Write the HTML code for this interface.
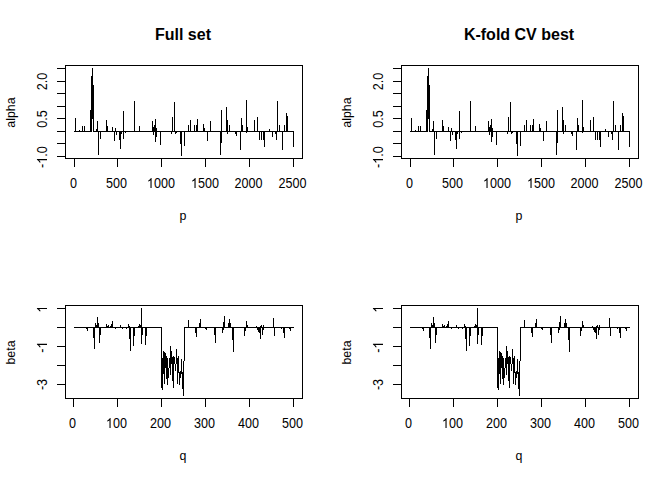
<!DOCTYPE html>
<html><head><meta charset="utf-8"><title>plot</title>
<style>
html,body{margin:0;padding:0;background:#fff;}
body{width:672px;height:480px;overflow:hidden;}
svg{display:block;}
text{font-family:"Liberation Sans",sans-serif;font-size:14px;fill:#000;}
text.t{font-weight:bold;font-size:16px;}
text.l{font-size:13.33px;}
</style></head><body>
<svg width="672" height="480" viewBox="0 0 672 480">
<rect x="0" y="0" width="672" height="480" fill="#fff"/>
<g shape-rendering="crispEdges" fill="#000"><rect x="65" y="65" width="238" height="1"/><rect x="65" y="158" width="238" height="1"/><rect x="65" y="65" width="1" height="94"/><rect x="302" y="65" width="1" height="94"/><rect x="57" y="68" width="9" height="1"/><rect x="57" y="81" width="9" height="1"/><rect x="57" y="93" width="9" height="1"/><rect x="57" y="106" width="9" height="1"/><rect x="57" y="118" width="9" height="1"/><rect x="57" y="131" width="9" height="1"/><rect x="57" y="143" width="9" height="1"/><rect x="57" y="156" width="9" height="1"/><rect x="74" y="158" width="1" height="9"/><rect x="117" y="158" width="1" height="9"/><rect x="161" y="158" width="1" height="9"/><rect x="205" y="158" width="1" height="9"/><rect x="249" y="158" width="1" height="9"/><rect x="293" y="158" width="1" height="9"/><rect x="74" y="131" width="18" height="1"/><rect x="93" y="131" width="201" height="1"/><rect x="75" y="118" width="1" height="14"/><rect x="79" y="130" width="1" height="2"/><rect x="82" y="126" width="1" height="6"/><rect x="84" y="126" width="1" height="6"/><rect x="90" y="110" width="1" height="22"/><rect x="91" y="76" width="1" height="56"/><rect x="93" y="85" width="1" height="47"/><rect x="96" y="129" width="1" height="3"/><rect x="97" y="121" width="1" height="11"/><rect x="98" y="131" width="1" height="24"/><rect x="100" y="131" width="1" height="8"/><rect x="106" y="120" width="1" height="12"/><rect x="107" y="126" width="1" height="6"/><rect x="112" y="127" width="1" height="5"/><rect x="114" y="131" width="1" height="10"/><rect x="115" y="128" width="1" height="4"/><rect x="116" y="131" width="1" height="4"/><rect x="119" y="131" width="1" height="9"/><rect x="120" y="131" width="1" height="18"/><rect x="121" y="131" width="1" height="3"/><rect x="123" y="111" width="1" height="28"/><rect x="125" y="131" width="1" height="2"/><rect x="134" y="101" width="1" height="31"/><rect x="139" y="126" width="1" height="6"/><rect x="152" y="121" width="1" height="11"/><rect x="153" y="127" width="1" height="8"/><rect x="154" y="125" width="1" height="7"/><rect x="155" y="119" width="1" height="23"/><rect x="156" y="128" width="1" height="9"/><rect x="160" y="131" width="1" height="14"/><rect x="171" y="131" width="1" height="3"/><rect x="172" y="117" width="1" height="15"/><rect x="174" y="102" width="1" height="30"/><rect x="175" y="131" width="1" height="3"/><rect x="176" y="131" width="1" height="2"/><rect x="180" y="131" width="1" height="13"/><rect x="181" y="131" width="1" height="25"/><rect x="184" y="131" width="1" height="15"/><rect x="188" y="125" width="1" height="7"/><rect x="190" y="120" width="1" height="12"/><rect x="194" y="125" width="1" height="7"/><rect x="196" y="125" width="1" height="7"/><rect x="197" y="119" width="1" height="13"/><rect x="203" y="124" width="1" height="8"/><rect x="204" y="128" width="1" height="4"/><rect x="207" y="131" width="1" height="10"/><rect x="210" y="121" width="1" height="11"/><rect x="220" y="131" width="1" height="24"/><rect x="221" y="110" width="1" height="33"/><rect x="226" y="107" width="1" height="25"/><rect x="227" y="120" width="1" height="14"/><rect x="229" y="125" width="1" height="7"/><rect x="235" y="131" width="1" height="3"/><rect x="236" y="131" width="1" height="5"/><rect x="240" y="131" width="1" height="19"/><rect x="241" y="118" width="1" height="14"/><rect x="242" y="125" width="1" height="7"/><rect x="246" y="100" width="1" height="33"/><rect x="247" y="127" width="1" height="5"/><rect x="254" y="120" width="1" height="12"/><rect x="257" y="117" width="1" height="15"/><rect x="259" y="131" width="1" height="9"/><rect x="261" y="131" width="1" height="9"/><rect x="263" y="131" width="1" height="9"/><rect x="264" y="131" width="1" height="16"/><rect x="269" y="129" width="1" height="3"/><rect x="272" y="131" width="1" height="6"/><rect x="275" y="131" width="1" height="3"/><rect x="276" y="131" width="1" height="9"/><rect x="277" y="101" width="1" height="31"/><rect x="279" y="125" width="1" height="7"/><rect x="282" y="131" width="1" height="19"/><rect x="284" y="125" width="1" height="7"/><rect x="286" y="113" width="1" height="19"/><rect x="287" y="116" width="1" height="16"/><rect x="293" y="131" width="1" height="16"/><rect x="92" y="68" width="1" height="51"/><rect x="65" y="305" width="238" height="1"/><rect x="65" y="398" width="238" height="1"/><rect x="65" y="305" width="1" height="94"/><rect x="302" y="305" width="1" height="94"/><rect x="57" y="308" width="9" height="1"/><rect x="57" y="327" width="9" height="1"/><rect x="57" y="346" width="9" height="1"/><rect x="57" y="365" width="9" height="1"/><rect x="57" y="384" width="9" height="1"/><rect x="73" y="398" width="1" height="9"/><rect x="117" y="398" width="1" height="9"/><rect x="161" y="398" width="1" height="9"/><rect x="205" y="398" width="1" height="9"/><rect x="249" y="398" width="1" height="9"/><rect x="293" y="398" width="1" height="9"/><rect x="74" y="327" width="88" height="1"/><rect x="184" y="327" width="110" height="1"/><rect x="86" y="327" width="1" height="2"/><rect x="87" y="327" width="1" height="4"/><rect x="93" y="327" width="1" height="11"/><rect x="94" y="327" width="1" height="22"/><rect x="95" y="323" width="1" height="5"/><rect x="96" y="325" width="1" height="3"/><rect x="97" y="317" width="1" height="11"/><rect x="98" y="323" width="1" height="5"/><rect x="99" y="327" width="1" height="16"/><rect x="100" y="327" width="1" height="8"/><rect x="106" y="324" width="1" height="4"/><rect x="107" y="326" width="1" height="2"/><rect x="108" y="325" width="1" height="3"/><rect x="110" y="326" width="1" height="2"/><rect x="111" y="324" width="1" height="4"/><rect x="112" y="321" width="1" height="7"/><rect x="115" y="327" width="1" height="2"/><rect x="120" y="325" width="1" height="3"/><rect x="122" y="327" width="1" height="2"/><rect x="126" y="327" width="1" height="2"/><rect x="128" y="324" width="1" height="4"/><rect x="129" y="326" width="1" height="13"/><rect x="130" y="327" width="1" height="24"/><rect x="133" y="327" width="1" height="19"/><rect x="134" y="327" width="1" height="9"/><rect x="138" y="326" width="1" height="2"/><rect x="139" y="324" width="1" height="4"/><rect x="140" y="325" width="1" height="3"/><rect x="141" y="308" width="1" height="36"/><rect x="142" y="327" width="1" height="8"/><rect x="145" y="327" width="1" height="18"/><rect x="146" y="327" width="1" height="9"/><rect x="188" y="320" width="1" height="8"/><rect x="195" y="327" width="1" height="6"/><rect x="196" y="327" width="1" height="10"/><rect x="199" y="323" width="1" height="5"/><rect x="200" y="319" width="1" height="9"/><rect x="205" y="327" width="1" height="2"/><rect x="206" y="327" width="1" height="3"/><rect x="214" y="327" width="1" height="8"/><rect x="215" y="327" width="1" height="16"/><rect x="222" y="327" width="1" height="6"/><rect x="223" y="322" width="1" height="8"/><rect x="224" y="316" width="1" height="12"/><rect x="228" y="323" width="1" height="5"/><rect x="229" y="319" width="1" height="9"/><rect x="230" y="323" width="1" height="5"/><rect x="232" y="327" width="1" height="13"/><rect x="233" y="327" width="1" height="25"/><rect x="244" y="327" width="1" height="9"/><rect x="245" y="327" width="1" height="4"/><rect x="246" y="321" width="1" height="7"/><rect x="247" y="325" width="1" height="3"/><rect x="256" y="326" width="1" height="2"/><rect x="257" y="327" width="1" height="3"/><rect x="258" y="327" width="1" height="5"/><rect x="259" y="327" width="1" height="6"/><rect x="260" y="326" width="1" height="13"/><rect x="261" y="325" width="1" height="3"/><rect x="262" y="327" width="1" height="8"/><rect x="263" y="325" width="1" height="5"/><rect x="273" y="318" width="1" height="10"/><rect x="274" y="327" width="1" height="9"/><rect x="281" y="327" width="1" height="2"/><rect x="283" y="327" width="1" height="6"/><rect x="284" y="327" width="1" height="11"/><rect x="289" y="327" width="1" height="2"/><rect x="290" y="327" width="1" height="4"/><rect x="161" y="327" width="1" height="61"/><rect x="162" y="358" width="1" height="32"/><rect x="163" y="351" width="1" height="23"/><rect x="164" y="352" width="1" height="32"/><rect x="165" y="353" width="1" height="15"/><rect x="166" y="356" width="1" height="23"/><rect x="167" y="358" width="1" height="27"/><rect x="168" y="368" width="1" height="10"/><rect x="169" y="358" width="1" height="10"/><rect x="170" y="346" width="1" height="29"/><rect x="171" y="351" width="1" height="13"/><rect x="172" y="357" width="1" height="24"/><rect x="173" y="356" width="1" height="32"/><rect x="174" y="357" width="1" height="7"/><rect x="175" y="364" width="1" height="7"/><rect x="176" y="349" width="1" height="15"/><rect x="177" y="358" width="1" height="26"/><rect x="178" y="356" width="1" height="17"/><rect x="179" y="372" width="1" height="13"/><rect x="180" y="371" width="1" height="7"/><rect x="181" y="359" width="1" height="15"/><rect x="182" y="372" width="1" height="17"/><rect x="183" y="361" width="1" height="35"/><rect x="184" y="327" width="1" height="34"/><rect x="401" y="65" width="238" height="1"/><rect x="401" y="158" width="238" height="1"/><rect x="401" y="65" width="1" height="94"/><rect x="638" y="65" width="1" height="94"/><rect x="393" y="68" width="9" height="1"/><rect x="393" y="81" width="9" height="1"/><rect x="393" y="93" width="9" height="1"/><rect x="393" y="106" width="9" height="1"/><rect x="393" y="118" width="9" height="1"/><rect x="393" y="131" width="9" height="1"/><rect x="393" y="143" width="9" height="1"/><rect x="393" y="156" width="9" height="1"/><rect x="410" y="158" width="1" height="9"/><rect x="453" y="158" width="1" height="9"/><rect x="497" y="158" width="1" height="9"/><rect x="541" y="158" width="1" height="9"/><rect x="585" y="158" width="1" height="9"/><rect x="629" y="158" width="1" height="9"/><rect x="410" y="131" width="18" height="1"/><rect x="429" y="131" width="201" height="1"/><rect x="411" y="118" width="1" height="14"/><rect x="415" y="130" width="1" height="2"/><rect x="418" y="126" width="1" height="6"/><rect x="420" y="126" width="1" height="6"/><rect x="426" y="110" width="1" height="22"/><rect x="427" y="76" width="1" height="56"/><rect x="429" y="85" width="1" height="47"/><rect x="432" y="129" width="1" height="3"/><rect x="433" y="121" width="1" height="11"/><rect x="434" y="131" width="1" height="24"/><rect x="436" y="131" width="1" height="8"/><rect x="442" y="120" width="1" height="12"/><rect x="443" y="126" width="1" height="6"/><rect x="448" y="127" width="1" height="5"/><rect x="450" y="131" width="1" height="10"/><rect x="451" y="128" width="1" height="4"/><rect x="452" y="131" width="1" height="4"/><rect x="455" y="131" width="1" height="9"/><rect x="456" y="131" width="1" height="18"/><rect x="457" y="131" width="1" height="3"/><rect x="459" y="111" width="1" height="28"/><rect x="461" y="131" width="1" height="2"/><rect x="470" y="101" width="1" height="31"/><rect x="475" y="126" width="1" height="6"/><rect x="488" y="121" width="1" height="11"/><rect x="489" y="127" width="1" height="8"/><rect x="490" y="125" width="1" height="7"/><rect x="491" y="119" width="1" height="23"/><rect x="492" y="128" width="1" height="9"/><rect x="496" y="131" width="1" height="14"/><rect x="507" y="131" width="1" height="3"/><rect x="508" y="117" width="1" height="15"/><rect x="510" y="102" width="1" height="30"/><rect x="511" y="131" width="1" height="3"/><rect x="512" y="131" width="1" height="2"/><rect x="516" y="131" width="1" height="13"/><rect x="517" y="131" width="1" height="25"/><rect x="520" y="131" width="1" height="15"/><rect x="524" y="125" width="1" height="7"/><rect x="526" y="120" width="1" height="12"/><rect x="530" y="125" width="1" height="7"/><rect x="532" y="125" width="1" height="7"/><rect x="533" y="119" width="1" height="13"/><rect x="539" y="124" width="1" height="8"/><rect x="540" y="128" width="1" height="4"/><rect x="543" y="131" width="1" height="10"/><rect x="546" y="121" width="1" height="11"/><rect x="556" y="131" width="1" height="24"/><rect x="557" y="110" width="1" height="33"/><rect x="562" y="107" width="1" height="25"/><rect x="563" y="120" width="1" height="14"/><rect x="565" y="125" width="1" height="7"/><rect x="571" y="131" width="1" height="3"/><rect x="572" y="131" width="1" height="5"/><rect x="576" y="131" width="1" height="19"/><rect x="577" y="118" width="1" height="14"/><rect x="578" y="125" width="1" height="7"/><rect x="582" y="100" width="1" height="33"/><rect x="583" y="127" width="1" height="5"/><rect x="590" y="120" width="1" height="12"/><rect x="593" y="117" width="1" height="15"/><rect x="595" y="131" width="1" height="9"/><rect x="597" y="131" width="1" height="9"/><rect x="599" y="131" width="1" height="9"/><rect x="600" y="131" width="1" height="16"/><rect x="605" y="129" width="1" height="3"/><rect x="608" y="131" width="1" height="6"/><rect x="611" y="131" width="1" height="3"/><rect x="612" y="131" width="1" height="9"/><rect x="613" y="101" width="1" height="31"/><rect x="615" y="125" width="1" height="7"/><rect x="618" y="131" width="1" height="19"/><rect x="620" y="125" width="1" height="7"/><rect x="622" y="113" width="1" height="19"/><rect x="623" y="116" width="1" height="16"/><rect x="629" y="131" width="1" height="16"/><rect x="428" y="68" width="1" height="51"/><rect x="401" y="305" width="238" height="1"/><rect x="401" y="398" width="238" height="1"/><rect x="401" y="305" width="1" height="94"/><rect x="638" y="305" width="1" height="94"/><rect x="393" y="308" width="9" height="1"/><rect x="393" y="327" width="9" height="1"/><rect x="393" y="346" width="9" height="1"/><rect x="393" y="365" width="9" height="1"/><rect x="393" y="384" width="9" height="1"/><rect x="409" y="398" width="1" height="9"/><rect x="453" y="398" width="1" height="9"/><rect x="497" y="398" width="1" height="9"/><rect x="541" y="398" width="1" height="9"/><rect x="585" y="398" width="1" height="9"/><rect x="629" y="398" width="1" height="9"/><rect x="410" y="327" width="88" height="1"/><rect x="520" y="327" width="110" height="1"/><rect x="422" y="327" width="1" height="2"/><rect x="423" y="327" width="1" height="4"/><rect x="429" y="327" width="1" height="11"/><rect x="430" y="327" width="1" height="22"/><rect x="431" y="323" width="1" height="5"/><rect x="432" y="325" width="1" height="3"/><rect x="433" y="317" width="1" height="11"/><rect x="434" y="323" width="1" height="5"/><rect x="435" y="327" width="1" height="16"/><rect x="436" y="327" width="1" height="8"/><rect x="442" y="324" width="1" height="4"/><rect x="443" y="326" width="1" height="2"/><rect x="444" y="325" width="1" height="3"/><rect x="446" y="326" width="1" height="2"/><rect x="447" y="324" width="1" height="4"/><rect x="448" y="321" width="1" height="7"/><rect x="451" y="327" width="1" height="2"/><rect x="456" y="325" width="1" height="3"/><rect x="458" y="327" width="1" height="2"/><rect x="462" y="327" width="1" height="2"/><rect x="464" y="324" width="1" height="4"/><rect x="465" y="326" width="1" height="13"/><rect x="466" y="327" width="1" height="24"/><rect x="469" y="327" width="1" height="19"/><rect x="470" y="327" width="1" height="9"/><rect x="474" y="326" width="1" height="2"/><rect x="475" y="324" width="1" height="4"/><rect x="476" y="325" width="1" height="3"/><rect x="477" y="308" width="1" height="36"/><rect x="478" y="327" width="1" height="8"/><rect x="481" y="327" width="1" height="18"/><rect x="482" y="327" width="1" height="9"/><rect x="524" y="320" width="1" height="8"/><rect x="531" y="327" width="1" height="6"/><rect x="532" y="327" width="1" height="10"/><rect x="535" y="323" width="1" height="5"/><rect x="536" y="319" width="1" height="9"/><rect x="541" y="327" width="1" height="2"/><rect x="542" y="327" width="1" height="3"/><rect x="550" y="327" width="1" height="8"/><rect x="551" y="327" width="1" height="16"/><rect x="558" y="327" width="1" height="6"/><rect x="559" y="322" width="1" height="8"/><rect x="560" y="316" width="1" height="12"/><rect x="564" y="323" width="1" height="5"/><rect x="565" y="319" width="1" height="9"/><rect x="566" y="323" width="1" height="5"/><rect x="568" y="327" width="1" height="13"/><rect x="569" y="327" width="1" height="25"/><rect x="580" y="327" width="1" height="9"/><rect x="581" y="327" width="1" height="4"/><rect x="582" y="321" width="1" height="7"/><rect x="583" y="325" width="1" height="3"/><rect x="592" y="326" width="1" height="2"/><rect x="593" y="327" width="1" height="3"/><rect x="594" y="327" width="1" height="5"/><rect x="595" y="327" width="1" height="6"/><rect x="596" y="326" width="1" height="13"/><rect x="597" y="325" width="1" height="3"/><rect x="598" y="327" width="1" height="8"/><rect x="599" y="325" width="1" height="5"/><rect x="609" y="318" width="1" height="10"/><rect x="610" y="327" width="1" height="9"/><rect x="617" y="327" width="1" height="2"/><rect x="619" y="327" width="1" height="6"/><rect x="620" y="327" width="1" height="11"/><rect x="625" y="327" width="1" height="2"/><rect x="626" y="327" width="1" height="4"/><rect x="497" y="327" width="1" height="61"/><rect x="498" y="358" width="1" height="32"/><rect x="499" y="351" width="1" height="23"/><rect x="500" y="352" width="1" height="32"/><rect x="501" y="353" width="1" height="15"/><rect x="502" y="356" width="1" height="23"/><rect x="503" y="358" width="1" height="27"/><rect x="504" y="368" width="1" height="10"/><rect x="505" y="358" width="1" height="10"/><rect x="506" y="346" width="1" height="29"/><rect x="507" y="351" width="1" height="13"/><rect x="508" y="357" width="1" height="24"/><rect x="509" y="356" width="1" height="32"/><rect x="510" y="357" width="1" height="7"/><rect x="511" y="364" width="1" height="7"/><rect x="512" y="349" width="1" height="15"/><rect x="513" y="358" width="1" height="26"/><rect x="514" y="356" width="1" height="17"/><rect x="515" y="372" width="1" height="13"/><rect x="516" y="371" width="1" height="7"/><rect x="517" y="359" width="1" height="15"/><rect x="518" y="372" width="1" height="17"/><rect x="519" y="361" width="1" height="35"/><rect x="520" y="327" width="1" height="34"/></g><g class="lbl"><text class="t" x="183" y="39.5" text-anchor="middle">Full set</text><text class="l" transform="translate(183,220) scale(0.93,1)" text-anchor="middle">p</text><text class="l" transform="translate(15,112.5) rotate(-90) scale(0.93,1)" text-anchor="middle">alpha</text><g transform="translate(47,81.5) rotate(-90) scale(0.9,1)"><text text-anchor="middle">2.0</text></g><g transform="translate(47,119.0) rotate(-90) scale(0.9,1)"><text text-anchor="middle">0.5</text></g><g transform="translate(47,156.5) rotate(-90) scale(0.9,1)"><text x="-12.762">-</text><path transform="translate(-8.100,0) scale(0.006836,-0.006836)" d="M763 0H583V1147Q518 1085 412.5 1023T223 930V1104Q374 1175 487 1276T647 1472H763Z"/><text x="-0.314">.0</text></g><g transform="translate(73.5,188) scale(0.9,1)"><text text-anchor="middle">0</text></g><g transform="translate(116.5,188) scale(0.9,1)"><text text-anchor="middle">500</text></g><g transform="translate(160.5,188) scale(0.9,1)"><path transform="translate(-15.122,0) scale(0.006836,-0.006836)" d="M763 0H583V1147Q518 1085 412.5 1023T223 930V1104Q374 1175 487 1276T647 1472H763Z"/><text x="-7.336">000</text></g><g transform="translate(204.5,188) scale(0.9,1)"><path transform="translate(-15.122,0) scale(0.006836,-0.006836)" d="M763 0H583V1147Q518 1085 412.5 1023T223 930V1104Q374 1175 487 1276T647 1472H763Z"/><text x="-7.336">500</text></g><g transform="translate(248.5,188) scale(0.9,1)"><text text-anchor="middle">2000</text></g><g transform="translate(292.5,188) scale(0.9,1)"><text text-anchor="middle">2500</text></g><text class="l" transform="translate(183,460) scale(0.93,1)" text-anchor="middle">q</text><text class="l" transform="translate(15,352.5) rotate(-90) scale(0.93,1)" text-anchor="middle">beta</text><g transform="translate(47,308.5) rotate(-90) scale(0.9,1)"><path transform="translate(-4.593,0) scale(0.006836,-0.006836)" d="M763 0H583V1147Q518 1085 412.5 1023T223 930V1104Q374 1175 487 1276T647 1472H763Z"/></g><g transform="translate(47,346.5) rotate(-90) scale(0.9,1)"><text x="-6.924">-</text><path transform="translate(-2.262,0) scale(0.006836,-0.006836)" d="M763 0H583V1147Q518 1085 412.5 1023T223 930V1104Q374 1175 487 1276T647 1472H763Z"/></g><g transform="translate(47,384.5) rotate(-90) scale(0.9,1)"><text text-anchor="middle">-3</text></g><g transform="translate(72.5,428) scale(0.9,1)"><text text-anchor="middle">0</text></g><g transform="translate(116.0,428) scale(0.9,1)"><path transform="translate(-11.229,0) scale(0.006836,-0.006836)" d="M763 0H583V1147Q518 1085 412.5 1023T223 930V1104Q374 1175 487 1276T647 1472H763Z"/><text x="-3.443">00</text></g><g transform="translate(160.5,428) scale(0.9,1)"><text text-anchor="middle">200</text></g><g transform="translate(204.5,428) scale(0.9,1)"><text text-anchor="middle">300</text></g><g transform="translate(248.5,428) scale(0.9,1)"><text text-anchor="middle">400</text></g><g transform="translate(292.5,428) scale(0.9,1)"><text text-anchor="middle">500</text></g><text class="t" x="519" y="39.5" text-anchor="middle">K-fold CV best</text><text class="l" transform="translate(519,220) scale(0.93,1)" text-anchor="middle">p</text><text class="l" transform="translate(351,112.5) rotate(-90) scale(0.93,1)" text-anchor="middle">alpha</text><g transform="translate(383,81.5) rotate(-90) scale(0.9,1)"><text text-anchor="middle">2.0</text></g><g transform="translate(383,119.0) rotate(-90) scale(0.9,1)"><text text-anchor="middle">0.5</text></g><g transform="translate(383,156.5) rotate(-90) scale(0.9,1)"><text x="-12.762">-</text><path transform="translate(-8.100,0) scale(0.006836,-0.006836)" d="M763 0H583V1147Q518 1085 412.5 1023T223 930V1104Q374 1175 487 1276T647 1472H763Z"/><text x="-0.314">.0</text></g><g transform="translate(409.5,188) scale(0.9,1)"><text text-anchor="middle">0</text></g><g transform="translate(452.5,188) scale(0.9,1)"><text text-anchor="middle">500</text></g><g transform="translate(496.5,188) scale(0.9,1)"><path transform="translate(-15.122,0) scale(0.006836,-0.006836)" d="M763 0H583V1147Q518 1085 412.5 1023T223 930V1104Q374 1175 487 1276T647 1472H763Z"/><text x="-7.336">000</text></g><g transform="translate(540.5,188) scale(0.9,1)"><path transform="translate(-15.122,0) scale(0.006836,-0.006836)" d="M763 0H583V1147Q518 1085 412.5 1023T223 930V1104Q374 1175 487 1276T647 1472H763Z"/><text x="-7.336">500</text></g><g transform="translate(584.5,188) scale(0.9,1)"><text text-anchor="middle">2000</text></g><g transform="translate(628.5,188) scale(0.9,1)"><text text-anchor="middle">2500</text></g><text class="l" transform="translate(519,460) scale(0.93,1)" text-anchor="middle">q</text><text class="l" transform="translate(351,352.5) rotate(-90) scale(0.93,1)" text-anchor="middle">beta</text><g transform="translate(383,308.5) rotate(-90) scale(0.9,1)"><path transform="translate(-4.593,0) scale(0.006836,-0.006836)" d="M763 0H583V1147Q518 1085 412.5 1023T223 930V1104Q374 1175 487 1276T647 1472H763Z"/></g><g transform="translate(383,346.5) rotate(-90) scale(0.9,1)"><text x="-6.924">-</text><path transform="translate(-2.262,0) scale(0.006836,-0.006836)" d="M763 0H583V1147Q518 1085 412.5 1023T223 930V1104Q374 1175 487 1276T647 1472H763Z"/></g><g transform="translate(383,384.5) rotate(-90) scale(0.9,1)"><text text-anchor="middle">-3</text></g><g transform="translate(408.5,428) scale(0.9,1)"><text text-anchor="middle">0</text></g><g transform="translate(452.0,428) scale(0.9,1)"><path transform="translate(-11.229,0) scale(0.006836,-0.006836)" d="M763 0H583V1147Q518 1085 412.5 1023T223 930V1104Q374 1175 487 1276T647 1472H763Z"/><text x="-3.443">00</text></g><g transform="translate(496.5,428) scale(0.9,1)"><text text-anchor="middle">200</text></g><g transform="translate(540.5,428) scale(0.9,1)"><text text-anchor="middle">300</text></g><g transform="translate(584.5,428) scale(0.9,1)"><text text-anchor="middle">400</text></g><g transform="translate(628.5,428) scale(0.9,1)"><text text-anchor="middle">500</text></g></g>
</svg>
</body></html>
